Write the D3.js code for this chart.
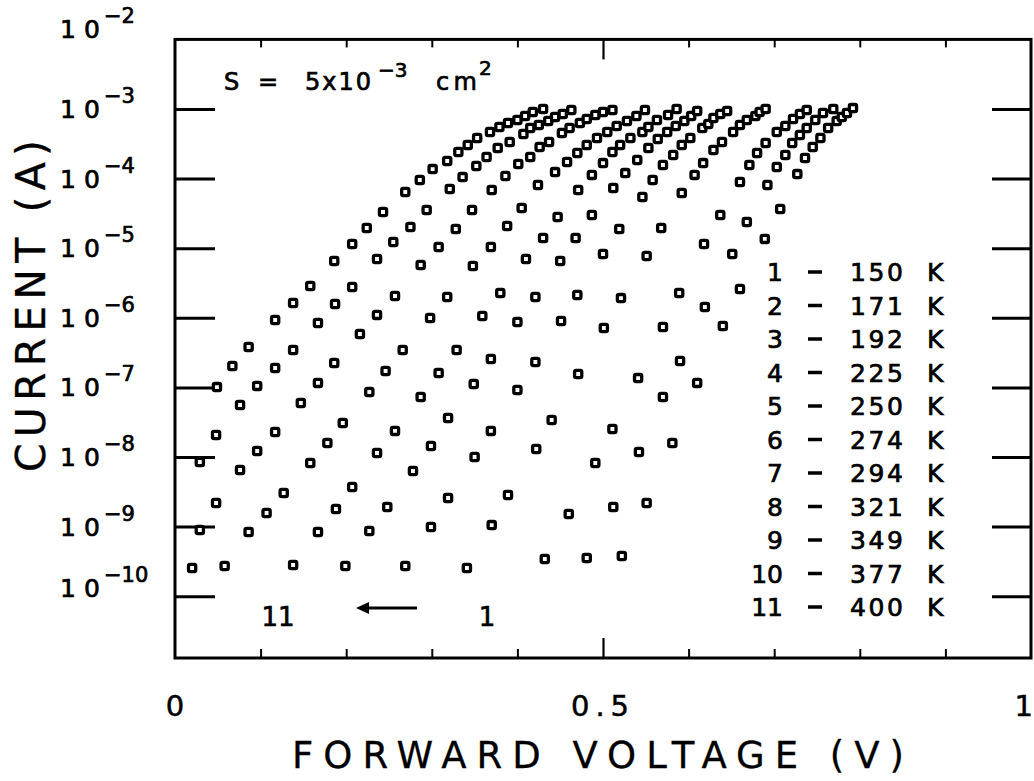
<!DOCTYPE html>
<html><head><meta charset="utf-8">
<script src="https://cdn.jsdelivr.net/npm/d3@7/dist/d3.min.js"></script>
<style>html,body{margin:0;padding:0;background:#fff;}svg{display:block;}</style>
</head><body>
<svg id="chart" width="1034" height="781"></svg>
<script>
// ---------------- DATA (forward voltage V, current A) ----------------
const temperatures = [150, 171, 192, 225, 250, 274, 294, 321, 349, 377, 400];

const curve150K = [[0.522,3.78e-10],[0.551,2.18e-9],[0.581,1.59e-8],[0.610,1.16e-7],[0.640,7.62e-7],[0.660,2.59e-6],[0.689,1.36e-5],[0.707,3.66e-5],[0.727,1.16e-4],[0.736,1.98e-4],[0.745,2.84e-4],[0.754,3.83e-4],[0.763,5.33e-4],[0.773,6.73e-4],[0.779,7.67e-4],[0.785,8.77e-4],[0.792,1.03e-3]];
const curve171K = [[0.481,3.54e-10],[0.512,1.91e-9],[0.542,1.18e-8],[0.570,7.28e-8],[0.590,2.39e-7],[0.619,1.43e-6],[0.651,8.26e-6],[0.668,2.38e-5],[0.692,8.09e-5],[0.703,1.47e-4],[0.713,2.18e-4],[0.721,3.24e-4],[0.730,4.23e-4],[0.738,5.33e-4],[0.748,6.95e-4],[0.757,8.77e-4],[0.769,1.0e-3]];
const curve192K = [[0.432,3.42e-10],[0.460,1.52e-9],[0.491,8.20e-9],[0.511,2.52e-8],[0.541,1.36e-7],[0.570,7.38e-7],[0.589,2.27e-6],[0.618,1.15e-5],[0.637,3.0e-5],[0.660,8.93e-5],[0.671,1.57e-4],[0.680,2.33e-4],[0.690,3.24e-4],[0.703,4.68e-4],[0.713,5.70e-4],[0.722,7.18e-4],[0.730,8.47e-4],[0.738,9.68e-4]];
const curve225K = [[0.341,2.54e-10],[0.370,1.05e-9],[0.389,2.84e-9],[0.422,1.30e-8],[0.440,3.40e-8],[0.471,1.56e-7],[0.501,7.13e-7],[0.521,1.92e-6],[0.551,7.73e-6],[0.568,1.95e-5],[0.592,6.21e-5],[0.607,1.13e-4],[0.617,1.67e-4],[0.629,2.58e-4],[0.639,3.36e-4],[0.652,4.68e-4],[0.660,5.89e-4],[0.668,6.95e-4],[0.678,7.93e-4],[0.683,9.05e-4],[0.690,1.0e-3]];
const curve250K = [[0.269,2.72e-10],[0.299,9.86e-10],[0.319,2.58e-9],[0.350,1.0e-8],[0.369,2.37e-8],[0.400,9.18e-8],[0.421,2.32e-7],[0.451,8.99e-7],[0.470,2.13e-6],[0.500,8.26e-6],[0.519,1.89e-5],[0.546,5.45e-5],[0.558,9.55e-5],[0.570,1.57e-4],[0.582,2.18e-4],[0.592,3.04e-4],[0.602,3.83e-4],[0.616,5.33e-4],[0.623,6.08e-4],[0.629,7.43e-4],[0.637,8.47e-4],[0.645,9.36e-4]];
const curve274K = [[0.199,2.72e-10],[0.227,8.65e-10],[0.248,1.91e-9],[0.278,6.30e-9],[0.299,1.44e-8],[0.319,3.63e-8],[0.349,1.12e-7],[0.369,2.56e-7],[0.400,8.71e-7],[0.421,1.99e-6],[0.450,6.55e-6],[0.468,1.40e-5],[0.487,3.0e-5],[0.512,7.33e-5],[0.526,1.20e-4],[0.540,1.85e-4],[0.553,2.75e-4],[0.564,3.71e-4],[0.575,4.68e-4],[0.585,5.70e-4],[0.595,6.73e-4],[0.603,7.93e-4],[0.610,9.36e-4]];
const curve294K = [[0.138,2.81e-10],[0.167,8.36e-10],[0.188,1.79e-9],[0.207,3.71e-9],[0.236,1.14e-8],[0.257,2.37e-8],[0.287,7.28e-8],[0.308,1.61e-7],[0.329,3.44e-7],[0.359,1.06e-6],[0.380,2.27e-6],[0.410,7.00e-6],[0.430,1.40e-5],[0.447,2.81e-5],[0.471,6.85e-5],[0.487,1.13e-4],[0.500,1.67e-4],[0.511,2.41e-4],[0.520,3.04e-4],[0.532,3.83e-4],[0.546,4.68e-4],[0.553,5.51e-4],[0.563,6.95e-4],[0.576,8.2e-4],[0.586,1.0e-3]];
const curve321K = [[0.058,2.72e-10],[0.086,8.36e-10],[0.107,1.57e-9],[0.127,3.04e-9],[0.158,8.20e-9],[0.178,1.59e-8],[0.196,3.08e-8],[0.227,8.59e-8],[0.246,1.72e-7],[0.266,3.44e-7],[0.298,9.93e-7],[0.318,1.99e-6],[0.348,5.55e-6],[0.369,1.04e-5],[0.388,2.08e-5],[0.405,3.78e-5],[0.424,8.09e-5],[0.444,1.24e-4],[0.458,1.73e-4],[0.470,2.33e-4],[0.481,3.04e-4],[0.493,3.83e-4],[0.505,4.68e-4],[0.516,5.70e-4],[0.528,6.73e-4],[0.539,7.93e-4],[0.549,9.68e-4]];
const curve349K = [[0.020,2.54e-10],[0.029,8.93e-10],[0.048,2.18e-9],[0.076,6.50e-9],[0.096,1.22e-8],[0.117,2.29e-8],[0.147,5.97e-8],[0.167,1.16e-7],[0.186,2.24e-7],[0.216,5.85e-7],[0.236,1.10e-6],[0.257,2.06e-6],[0.287,5.74e-6],[0.308,1.04e-5],[0.328,1.89e-5],[0.347,3.54e-5],[0.370,6.85e-5],[0.386,1.09e-4],[0.401,1.62e-4],[0.415,2.04e-4],[0.426,2.84e-4],[0.437,3.36e-4],[0.452,4.52e-4],[0.461,5.33e-4],[0.473,6.30e-4],[0.481,7.18e-4],[0.491,8.2e-4],[0.500,9.05e-4],[0.511,9.68e-4]];
const curve377K = [[0.029,8.47e-9],[0.048,2.07e-8],[0.076,5.58e-8],[0.096,1.05e-7],[0.117,1.90e-7],[0.138,3.44e-7],[0.167,8.41e-7],[0.187,1.58e-6],[0.207,2.77e-6],[0.236,7.00e-6],[0.255,1.23e-5],[0.275,2.02e-5],[0.294,3.54e-5],[0.321,7.10e-5],[0.336,1.05e-4],[0.352,1.52e-4],[0.364,2.04e-4],[0.377,2.75e-4],[0.391,3.36e-4],[0.407,4.38e-4],[0.415,5.33e-4],[0.425,5.89e-4],[0.436,6.73e-4],[0.444,7.67e-4],[0.453,8.47e-4],[0.463,9.68e-4]];
const curve400K = [[0.049,1.01e-7],[0.067,2.03e-7],[0.086,3.80e-7],[0.117,9.29e-7],[0.138,1.63e-6],[0.158,2.86e-6],[0.186,6.55e-6],[0.207,1.15e-5],[0.224,1.95e-5],[0.243,3.31e-5],[0.269,6.41e-5],[0.286,9.55e-5],[0.301,1.37e-4],[0.318,1.79e-4],[0.331,2.41e-4],[0.342,3.04e-4],[0.353,3.83e-4],[0.368,4.68e-4],[0.379,5.51e-4],[0.389,6.30e-4],[0.400,6.95e-4],[0.409,7.93e-4],[0.418,9.05e-4],[0.430,1.0e-3]];

const curves = [curve150K, curve171K, curve192K, curve225K, curve250K, curve274K, curve294K, curve321K, curve349K, curve377K, curve400K];

const xMajorTicks = [0, 0.5, 1];
const xTickLabels = ["0", "0.5", "1"];
const xMinorTicks = [0.1, 0.2, 0.3, 0.4, 0.6, 0.7, 0.8, 0.9];
const yLabelExponents = [-2, -3, -4, -5, -6, -7, -8, -9, -10];
const yDecadeTicks = [1e-3, 1e-4, 1e-5, 1e-6, 1e-7, 1e-8, 1e-9, 1e-10];

// ---------------- DRAWING ----------------
const FONT = "'DejaVu Sans', sans-serif";
const svg = d3.select("#chart");
svg.append("rect").attr("width", 1034).attr("height", 781).attr("fill", "#fff");

const x = d3.scaleLinear().domain([0, 1]).range([175, 1031]);
const y = d3.scaleLog().domain([1.294e-11, 1e-2]).range([658, 39.4]);

function styleTicks(g, w) {
  g.select(".domain").remove();
  g.selectAll(".tick line").attr("stroke", "#000").attr("stroke-width", w);
  g.selectAll(".tick text").remove();
}

// left & right decade ticks (pointing inward)
svg.append("g").attr("transform", "translate(175,0)")
  .call(d3.axisRight(y).tickValues(yDecadeTicks).tickSize(40).tickFormat(""))
  .call(g => styleTicks(g, 3));
svg.append("g").attr("transform", "translate(1031,0)")
  .call(d3.axisLeft(y).tickValues(yDecadeTicks).tickSize(39).tickFormat(""))
  .call(g => styleTicks(g, 3));

// top ticks
svg.append("g").attr("transform", "translate(0,39.4)")
  .call(d3.axisBottom(x).tickValues(xMinorTicks).tickSize(8).tickFormat(""))
  .call(g => styleTicks(g, 2));
svg.append("g").attr("transform", "translate(0,39.4)")
  .call(d3.axisBottom(x).tickValues([0.5]).tickSize(20).tickFormat(""))
  .call(g => styleTicks(g, 2.2));
// bottom ticks
svg.append("g").attr("transform", "translate(0,658)")
  .call(d3.axisTop(x).tickValues(xMinorTicks).tickSize(9).tickFormat(""))
  .call(g => styleTicks(g, 2));
svg.append("g").attr("transform", "translate(0,658)")
  .call(d3.axisTop(x).tickValues([0.5]).tickSize(20).tickFormat(""))
  .call(g => styleTicks(g, 2.2));

// frame
svg.append("rect")
  .attr("x", x(0)).attr("y", y(1e-2))
  .attr("width", x(1) - x(0)).attr("height", y(1.294e-11) - y(1e-2))
  .attr("fill", "none").attr("stroke", "#000").attr("stroke-width", 3);

// data markers: open squares
const markG = svg.append("g");
curves.forEach((c, i) => {
  markG.append("g").attr("class", "T" + temperatures[i])
    .selectAll("rect").data(c).join("rect")
    .attr("x", d => x(d[0]) - 3.6).attr("y", d => y(d[1]) - 3.6)
    .attr("width", 7.2).attr("height", 7.2).attr("rx", 1.6)
    .attr("fill", "#fff").attr("stroke", "#000").attr("stroke-width", 3.3);
});

// heavier text strokes like the plotter lettering
const TS = 0.7;
function heavy(sel, w) { return sel.attr("stroke", "#000").attr("stroke-width", w === undefined ? TS : w).attr("fill", "#000"); }

// y tick labels 10^-n
yLabelExponents.forEach(e => {
  let yy = y(Math.pow(10, e));
  if (e === -2) yy -= 10;
  if (e === -10) yy -= 8;
  heavy(svg.append("text").attr("x", 60).attr("y", yy + 9)
    .attr("font-family", FONT).attr("font-size", 25)
    .attr("textLength", 40).attr("lengthAdjust", "spacing").text("10"));
  heavy(svg.append("text").attr("x", 104).attr("y", yy - 6)
    .attr("font-family", FONT).attr("font-size", 21)
    .text("\u2212" + Math.abs(e)));
});

// x tick labels
xMajorTicks.forEach((v, i) => {
  const anchor = i === 2 ? "end" : "middle";
  const xx = i === 2 ? 1033 : x(v);
  heavy(svg.append("text").attr("x", xx).attr("y", 716)
    .attr("text-anchor", anchor).attr("font-family", FONT).attr("font-size", 29)
    .attr("letter-spacing", i === 1 ? 6 : 0)
    .text(xTickLabels[i]), 0.5);
});

// axis titles
heavy(svg.append("text").attr("x", 598).attr("y", 768)
  .attr("text-anchor", "middle").attr("font-family", FONT).attr("font-size", 37)
  .attr("textLength", 612).attr("lengthAdjust", "spacing")
  .text("FORWARD VOLTAGE (V)"), 0.3);
heavy(svg.append("text").attr("transform", "translate(45,306) rotate(-90)")
  .attr("text-anchor", "middle").attr("font-family", FONT).attr("font-size", 41)
  .attr("textLength", 332).attr("lengthAdjust", "spacing")
  .text("CURRENT (A)"), 0.3);

// area annotation
const ann = svg.append("g").attr("font-family", FONT).attr("font-size", 24);
heavy(ann.append("text").attr("x", 224).attr("y", 90).text("S"));
heavy(ann.append("text").attr("x", 258).attr("y", 90).text("="));
heavy(ann.append("text").attr("x", 305).attr("y", 90).attr("textLength", 66).attr("lengthAdjust", "spacing").text("5x10"));
heavy(ann.append("text").attr("x", 378).attr("y", 77).attr("font-size", 20).text("\u22123"));
heavy(ann.append("text").attr("x", 436).attr("y", 90).attr("textLength", 41).attr("lengthAdjust", "spacing").text("cm"));
heavy(ann.append("text").attr("x", 479).attr("y", 75).attr("font-size", 20).text("2"));

// legend
const leg = svg.append("g").attr("font-family", FONT).attr("font-size", 25);
temperatures.forEach((t, i) => {
  const cy = 272 + i * 33.5;
  heavy(leg.append("text").attr("x", 783).attr("y", cy + 9).attr("text-anchor", "end").text(String(i + 1)));
  leg.append("line").attr("x1", 808).attr("x2", 822).attr("y1", cy).attr("y2", cy)
    .attr("stroke", "#000").attr("stroke-width", 3.5);
  heavy(leg.append("text").attr("x", 850).attr("y", cy + 9)
    .attr("textLength", 53).attr("lengthAdjust", "spacing").text(String(t)));
  heavy(leg.append("text").attr("x", 927).attr("y", cy + 9).text("K"));
});

// direction annotation "11 <- 1"
const dirG = svg.append("g").attr("font-family", FONT).attr("font-size", 26);
heavy(dirG.append("text").attr("x", 278).attr("y", 626).attr("text-anchor", "middle").text("11"));
heavy(dirG.append("text").attr("x", 487).attr("y", 626).attr("text-anchor", "middle").text("1"));
dirG.append("line").attr("x1", 417).attr("x2", 366).attr("y1", 608).attr("y2", 608)
  .attr("stroke", "#000").attr("stroke-width", 3.2);
dirG.append("polygon").attr("points", "356,608 369,602 369,614").attr("fill", "#000");
</script>
</body></html>
